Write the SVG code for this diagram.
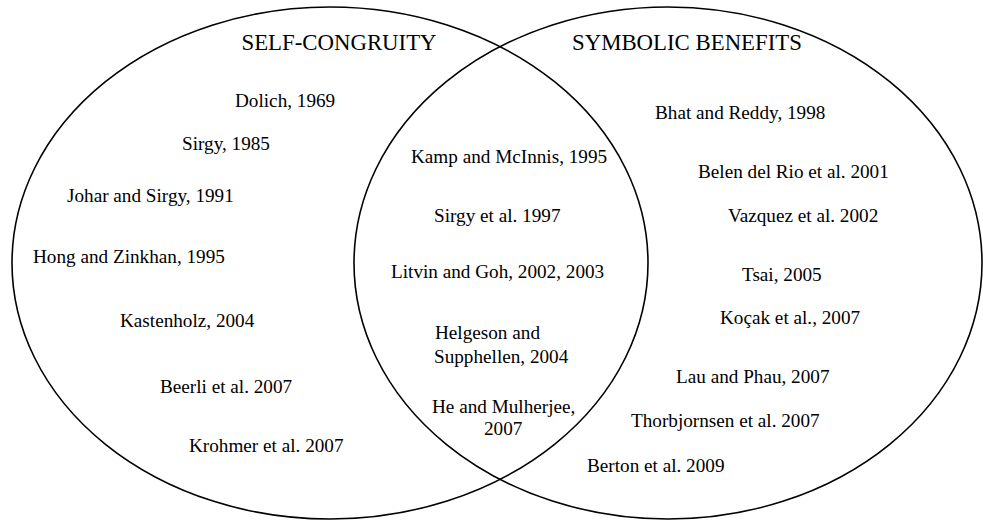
<svg xmlns="http://www.w3.org/2000/svg" width="983" height="520" viewBox="0 0 983 520">
<style>
.set{fill:none;stroke:#000;stroke-width:1.6}
text{font-family:"Liberation Serif","Times New Roman",serif;fill:#000}
.t{font-size:22.8px}
.c{font-size:19.2px}
</style>
<rect width="983" height="520" fill="#fff"/>
<g id="self-congruity">
<ellipse class="set" cx="330" cy="263" rx="318" ry="256"/>
<text class="t" x="241.5" y="50">SELF-CONGRUITY</text>
</g>
<g id="symbolic-benefits">
<ellipse class="set" cx="668" cy="263" rx="314" ry="256"/>
<text class="t" x="572" y="50">SYMBOLIC BENEFITS</text>
</g>
<g id="self-congruity-studies" class="c">
<text class="c" x="235" y="107">Dolich, 1969</text>
<text class="c" x="182" y="150">Sirgy, 1985</text>
<text class="c" x="67" y="202">Johar and Sirgy, 1991</text>
<text class="c" x="33" y="263">Hong and Zinkhan, 1995</text>
<text class="c" x="120" y="327">Kastenholz, 2004</text>
<text class="c" x="160" y="393">Beerli et al. 2007</text>
<text class="c" x="189" y="452">Krohmer et al. 2007</text>
</g>
<g id="overlap-studies">
<text class="c" x="411" y="163">Kamp and McInnis, 1995</text>
<text class="c" x="434" y="222">Sirgy et al. 1997</text>
<text class="c" x="391" y="278">Litvin and Goh, 2002, 2003</text>
<text class="c" x="435" y="339">Helgeson and</text>
<text class="c" x="434" y="363">Supphellen, 2004</text>
<text class="c" x="432" y="413">He and Mulherjee,</text>
<text class="c" x="484" y="435">2007</text>
</g>
<g id="symbolic-benefits-studies">
<text class="c" x="655" y="119">Bhat and Reddy, 1998</text>
<text class="c" x="698" y="178">Belen del Rio et al. 2001</text>
<text class="c" x="728" y="222">Vazquez et al. 2002</text>
<text class="c" x="742" y="281">Tsai, 2005</text>
<text class="c" x="720" y="324">Koçak et al., 2007</text>
<text class="c" x="676" y="383">Lau and Phau, 2007</text>
<text class="c" x="631" y="427">Thorbjornsen et al. 2007</text>
<text class="c" x="587" y="472">Berton et al. 2009</text>
</g>
</svg>
